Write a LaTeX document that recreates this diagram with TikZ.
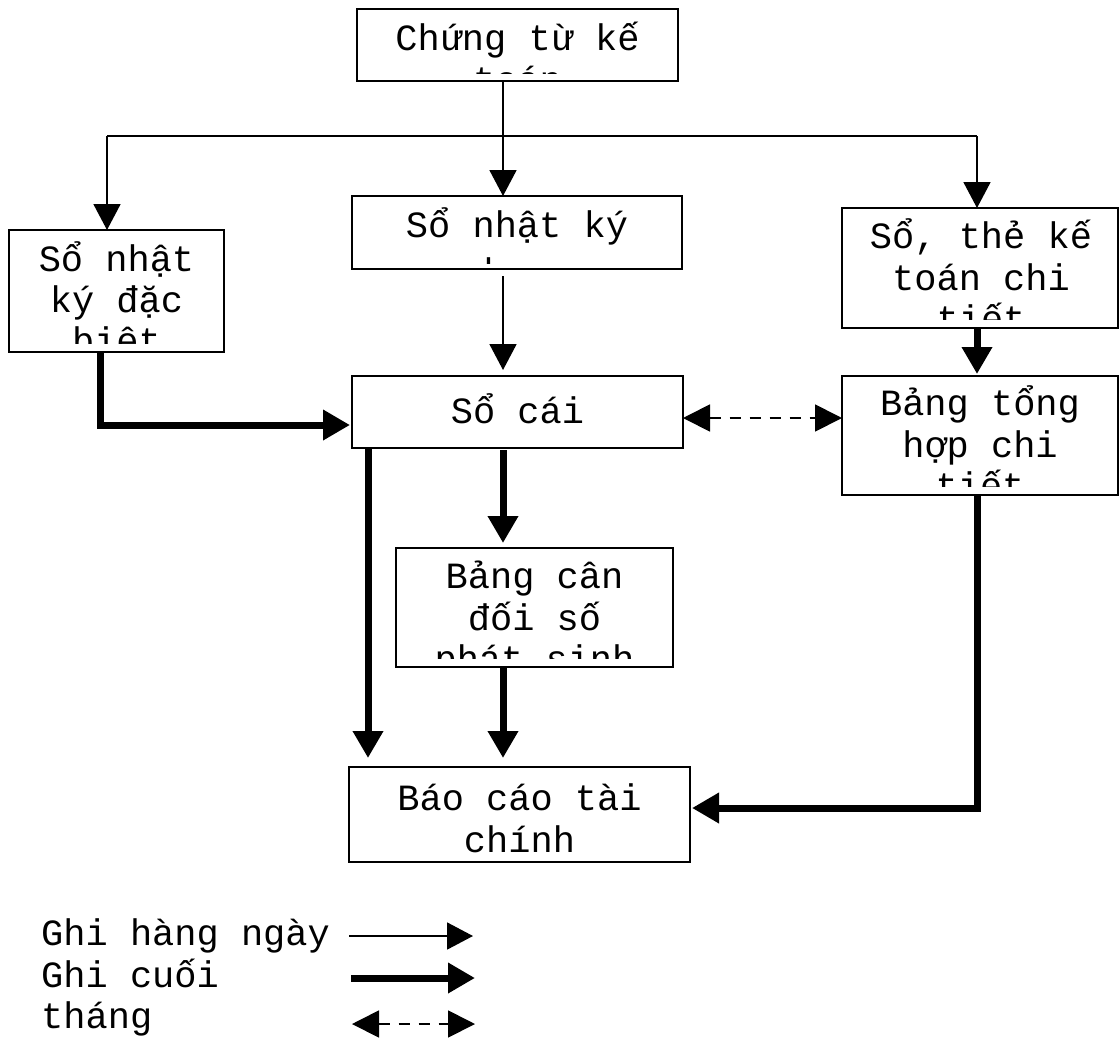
\documentclass[tikz,border=0pt]{standalone}
\usepackage{fontspec}
\setmonofont{Liberation Mono}
\usetikzlibrary{arrows.meta,calc}
\tikzset{
  box/.style={draw, line width=1.6pt, inner sep=0pt, outer sep=0pt},
  txt/.style={font=\ttfamily\fontsize{37}{41}\selectfont, inner sep=0pt, anchor=base},
  ltxt/.style={font=\ttfamily\fontsize{37}{41}\selectfont, inner sep=0pt, anchor=base west},
  plainline/.style={line width=1.8pt},
  thinarr/.style={line width=1.8pt, -{Triangle[length=26pt,width=27pt]}},
  thickarr/.style={line width=7pt, -{Triangle[length=27pt,width=29pt]}},
  dasharr/.style={line width=1.8pt, dash pattern=on 11pt off 9pt, {Triangle[length=27pt,width=27pt]}-{Triangle[length=27pt,width=27pt]}}
}
\begin{document}
\begin{tikzpicture}[x=1pt,y=-1pt]
\useasboundingbox[fill=white] (0,0) rectangle (1119,1039);

% boxes
\node[box, minimum width=321pt, minimum height=72pt] (ct) at (517.5,45) {};
\node[box, minimum width=330pt, minimum height=73pt] (chung) at (517,232.5) {};
\node[box, minimum width=215pt, minimum height=122pt] (db) at (116.5,291) {};
\node[box, minimum width=276pt, minimum height=120pt] (ctct) at (980,268) {};
\node[box, minimum width=331pt, minimum height=72pt] (socai) at (517.5,412) {};
\node[box, minimum width=276pt, minimum height=119pt] (bth) at (980,435.5) {};
\node[box, minimum width=277pt, minimum height=119pt] (bcd) at (534.5,607.5) {};
\node[box, minimum width=341pt, minimum height=95pt] (bctc) at (519.5,814.5) {};

% texts (clipped to their boxes)
\begin{scope}
\clip (ct.north west) rectangle ($(ct.south east)+(0,-8)$);
\node[txt] (ct1) at (517.5,50) {Chứng từ kế};
\node[txt] (ct2) at (517.5,92) {toán};
\end{scope}
\begin{scope}
\clip (chung.north west) rectangle ($(chung.south east)+(0,-6)$);
\node[txt] (chung1) at (517,237) {Sổ nhật ký};
\node[txt] (chung2) at (517,284) {chung};
\end{scope}
\begin{scope}
\clip (db.north west) rectangle ($(db.south east)+(0,-9)$);
\node[txt] (db1) at (116.5,271) {Sổ nhật};
\node[txt] (db2) at (116.5,312) {ký đặc};
\node[txt] (db3) at (116.5,353) {biệt};
\end{scope}
\begin{scope}
\clip (ctct.north west) rectangle ($(ctct.south east)+(0,-9)$);
\node[txt] (ctct1) at (981,248) {Sổ, thẻ kế};
\node[txt] (ctct2) at (981,290) {toán chi};
\node[txt] (ctct3) at (981,331) {tiết};
\end{scope}
\node[txt] (socai1) at (517.5,423) {Sổ cái};
\begin{scope}
\clip (bth.north west) rectangle ($(bth.south east)+(0,-9)$);
\node[txt] (bth1) at (980,415) {Bảng tổng};
\node[txt] (bth2) at (980,457) {hợp chi};
\node[txt] (bth3) at (980,498) {tiết};
\end{scope}
\begin{scope}
\clip (bcd.north west) rectangle ($(bcd.south east)+(0,-9)$);
\node[txt] (bcd1) at (534.5,588) {Bảng cân};
\node[txt] (bcd2) at (534.5,630) {đối số};
\node[txt] (bcd3) at (534.5,671) {phát sinh};
\end{scope}
\node[txt] (bctc1) at (519.5,810) {Báo cáo tài};
\node[txt] (bctc2) at (519.5,852) {chính};

% connectors
\coordinate (jl) at (107,136);
\coordinate (jr) at (977,136);
\coordinate (dl) at ($(socai.east)+(0,6)$);
\draw[plainline] (jl) -- (jr);
\draw[thinarr] ($(ct.south)+(-14.5,0)$) -- ($(chung.north)+(-14,0)$);
\draw[thinarr] (jl) -- (jl |- db.north);
\draw[thinarr] (jr) -- (jr |- ctct.north);
\draw[thinarr] ($(chung.south)+(-14,7)$) -- ($(socai.north)+(-14.5,-6)$);
\draw[thickarr] ($(db.south)+(-16.5,0)$) |- ($(socai.west)+(-2,13)$);
\draw[thickarr] ($(ctct.south)+(-3,0)$) -- ($(bth.north)+(-3,-2)$);
\draw[dasharr] (dl) -- (dl -| bth.west);
\draw[thickarr] ($(socai.south)+(-14.5,2)$) -- ($(bcd.north)+(-31.5,-5)$);
\draw[thickarr] ($(socai.south west)+(16,0)$) -- ($(bctc.north west)+(19,-9)$);
\draw[thickarr] ($(bcd.south)+(-31.5,0)$) -- ($(bctc.north)+(-16.5,-9)$);
\draw[thickarr] ($(bth.south)+(-3,0)$) |- ($(bctc.east)+(2,-6.5)$);

% legend
\node[ltxt] (lg1) at (41,945) {Ghi hàng ngày};
\node[ltxt] (lg2) at (41,987) {Ghi cuối};
\node[ltxt] (lg3) at (41,1028) {tháng};
\coordinate (la1) at (349,936);
\coordinate (lb1) at (473,936);
\coordinate (la2) at (351,978);
\coordinate (lb2) at (475,978);
\coordinate (la3) at (352,1024);
\coordinate (lb3) at (475,1024);
\draw[thinarr] (la1) -- (lb1);
\draw[thickarr] (la2) -- (lb2);
\draw[dasharr] (la3) -- (lb3);
\end{tikzpicture}
\end{document}
